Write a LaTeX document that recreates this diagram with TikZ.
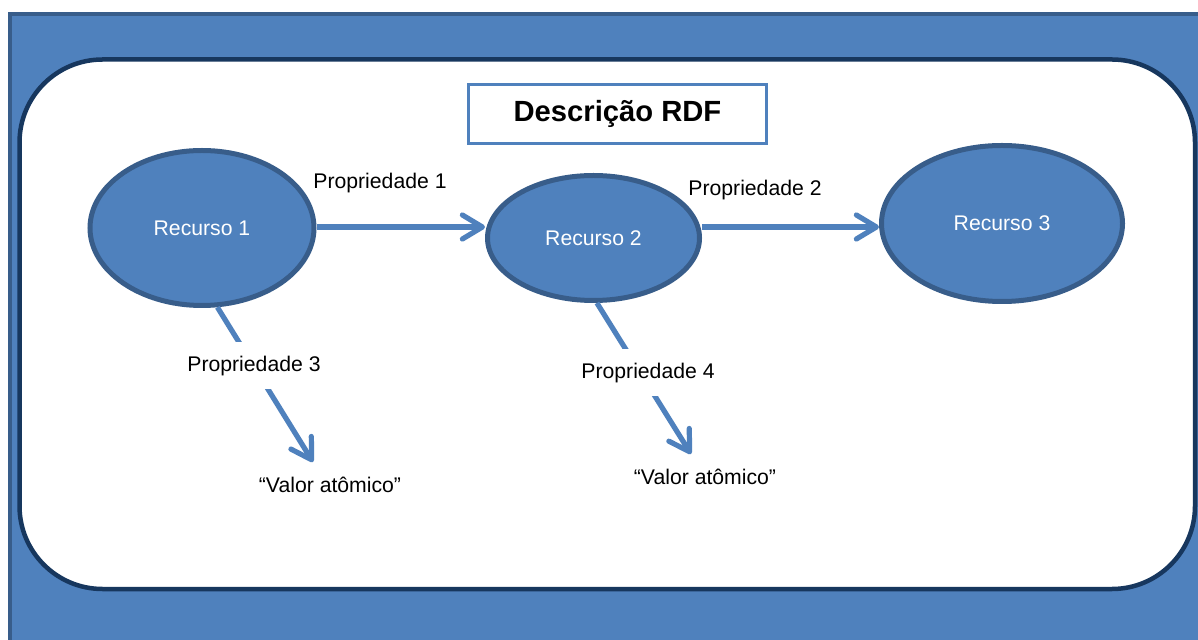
\documentclass[tikz,border=0pt]{standalone}
\usepackage{fontspec}
\setmainfont{Liberation Sans}
\usetikzlibrary{arrows.meta,shapes.geometric}
\definecolor{accent}{HTML}{4F81BD}
\definecolor{accentdark}{HTML}{385D8A}
\definecolor{navy}{HTML}{17375E}

\begin{document}
\begin{tikzpicture}[x=0.5pt,y=-0.5pt,
  panel/.style={fill=white,draw=navy,line width=2.25pt,rounded corners=41.5pt},
  titlebox/.style={draw=accent,line width=1.5pt,fill=white,minimum width=149pt,
    minimum height=29.5pt,inner sep=0pt,font=\fontsize{14.6}{16}\selectfont\bfseries},
  resource/.style={ellipse,fill=accent,draw=accentdark,line width=2.5pt,inner sep=0pt,
    text=white,font=\fontsize{10.6}{12}\selectfont},
  proplabel/.style={fill=white,inner sep=0pt,minimum height=23.5pt,minimum width=70pt,
    font=\fontsize{10.6}{12}\selectfont},
  valuelabel/.style={inner sep=1pt,font=\fontsize{10.6}{12}\selectfont},
  link/.style={draw=accent,line width=2.6pt,
    -{Straight Barb[length=10pt,width=12pt,round]}}]

% page frame and clipping
\path[use as bounding box] (0,0) rectangle (1198,640);
\clip (0,0) rectangle (1198,640);

% blue background and white rounded panel
\draw[fill=accent,draw=accentdark,line width=2pt] (9.5,14) rectangle (1230,670);
\draw[panel] (19.5,59.5) rectangle (1195,589);

% title
\node[titlebox] (title) at (617.5,114) {Descrição RDF};

% resources
\node[resource,minimum width=112pt,minimum height=77.5pt] (r1) at (202,228) {Recurso 1};
\node[resource,minimum width=106pt,minimum height=62.5pt] (r2) at (593.5,238) {Recurso 2};
\node[resource,minimum width=120.5pt,minimum height=78pt] (r3) at (1002,223.5) {Recurso 3};

% atomic values
\node[valuelabel] (v1) at (330,485) {“Valor atômico”};
\node[valuelabel] (v2) at (705,477) {“Valor atômico”};

% arrow tips
\coordinate (t1) at (485,227);
\coordinate (t2) at (879,227);
\coordinate (t3) at (313,462);
\coordinate (t4) at (691,454);

% connectors
\draw[link] (r1.east |- t1) -- (t1);
\draw[link] (r2.east |- t2) -- (t2);
\draw[link] (r1.-79) -- (t3);
\draw[link] (r2.-87) -- (t4);

% property labels
\node[proplabel,fill=none] (p1) at (380,183) {Propriedade 1};
\node[proplabel,fill=none] (p2) at (755,190) {Propriedade 2};
\node[proplabel] (p3) at (254,366) {Propriedade 3};
\node[proplabel] (p4) at (648,373) {Propriedade 4};
\end{tikzpicture}
\end{document}
